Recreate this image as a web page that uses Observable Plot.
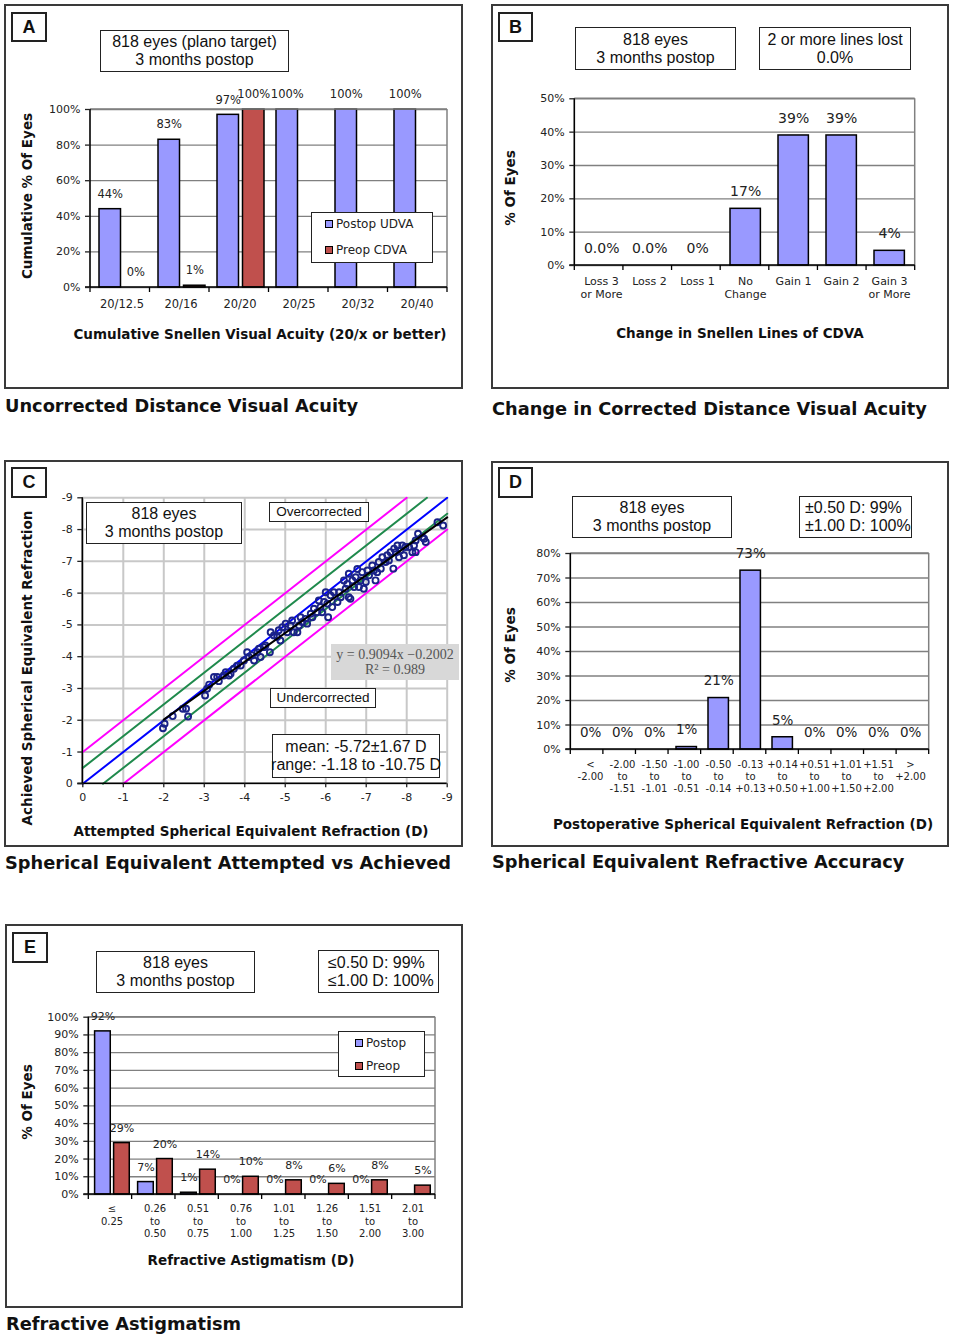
<!DOCTYPE html>
<html><head><meta charset="utf-8">
<script src="https://cdn.jsdelivr.net/npm/d3@7"></script>
<script src="https://cdn.jsdelivr.net/npm/@observablehq/plot@0.6"></script>
<style>
body{margin:0;background:#fff;}
#page{position:relative;width:954px;height:1339px;overflow:hidden;background:#fff;font-family:'DejaVu Sans',Verdana,sans-serif;color:#111;}
.frame{position:absolute;border:2px solid #3a3a3a;box-sizing:border-box;}
.letter{position:absolute;border:2px solid #222;box-sizing:border-box;font:bold 18px 'Liberation Sans',Arial,sans-serif;display:flex;align-items:center;justify-content:center;background:#fff;}
.box{position:absolute;border:1.5px solid #222;box-sizing:border-box;background:#fff;font:16px 'Liberation Sans',Arial,sans-serif;line-height:18px;display:flex;flex-direction:column;align-items:center;justify-content:center;white-space:nowrap;color:#111;}
.box.left{align-items:flex-start;padding-left:5px;}
.caption{position:absolute;font:bold 17.8px 'DejaVu Sans',Verdana,sans-serif;line-height:18px;white-space:nowrap;color:#111;}
.ytitle{position:absolute;font:bold 13.5px 'DejaVu Sans',Verdana,sans-serif;white-space:nowrap;transform:translate(-50%,-50%) rotate(-90deg);}
.xtitle{position:absolute;font:bold 13.5px 'DejaVu Sans',Verdana,sans-serif;white-space:nowrap;transform:translate(-50%,-50%);}
.legend{position:absolute;border:1.5px solid #222;box-sizing:border-box;background:#fff;font:12px 'DejaVu Sans',Verdana,sans-serif;color:#222;}
.legend .row{position:absolute;display:flex;align-items:center;white-space:nowrap;}
.legend .sw{width:6px;height:6px;border:1.2px solid #000;margin-right:3px;}
.reg{position:absolute;background:#d8d8d8;font:14px 'Liberation Serif','Times New Roman',serif;color:#555;display:flex;flex-direction:column;align-items:center;justify-content:center;line-height:15px;white-space:nowrap;}
</style></head>
<body><div id="page"></div>
<script>
// ---------------- DATA ----------------
// Panel A
const aCategories = ["20/12.5","20/16","20/20","20/25","20/32","20/40"];
const aPostopUDVA = [44,83,97,100,100,100];
const aPreopCDVA = [0,1,100,null,null,null];
const aYTicks = [0,20,40,60,80,100];
// Panel B
const bCategories = ["Loss 3\nor More","Loss 2","Loss 1","No\nChange","Gain 1","Gain 2","Gain 3\nor More"];
const bValues = [0,0,0,17,39,39,4.4];
const bLabels = ["0.0%","0.0%","0%","17%","39%","39%","4%"];
const bYTicks = [0,10,20,30,40,50];
// Panel C
const cAttempted = [-1.98,-2.02,-2.22,-2.47,-2.55,-2.60,-3.02,-3.07,-3.12,-3.24,-3.32,-3.36,-3.48,-3.53,-3.61,-3.65,-3.73,-3.81,-3.90,-3.98,-4.06,-4.10,-4.18,-4.23,-4.31,-4.35,-4.39,-4.47,-4.51,-4.62,-4.64,-4.72,-4.80,-4.84,-4.88,-4.93,-5.01,-5.05,-5.13,-5.17,-5.21,-5.30,-5.34,-5.38,-5.42,-5.50,-5.54,-5.63,-5.67,-5.71,-5.79,-5.83,-5.87,-5.91,-5.96,-6.00,-6.04,-6.06,-6.12,-6.16,-6.20,-6.29,-6.33,-6.37,-6.45,-6.49,-6.53,-6.57,-6.57,-6.61,-6.66,-6.70,-6.74,-6.78,-6.82,-6.86,-6.90,-6.94,-6.99,-7.03,-7.07,-7.15,-7.19,-7.23,-7.27,-7.31,-7.36,-7.40,-7.48,-7.52,-7.56,-7.60,-7.67,-7.69,-7.73,-7.77,-7.81,-7.85,-7.89,-7.93,-7.97,-8.06,-8.14,-8.18,-8.22,-8.22,-8.28,-8.39,-8.43,-8.47,-8.76,-8.90];
const cAchieved = [-1.75,-1.89,-2.13,-2.36,-2.36,-2.12,-2.78,-2.99,-3.12,-3.36,-3.36,-3.23,-3.41,-3.51,-3.41,-3.46,-3.62,-3.72,-3.72,-3.88,-4.14,-3.99,-4.04,-3.88,-4.14,-4.25,-3.99,-4.30,-4.35,-4.14,-4.77,-4.67,-4.62,-4.83,-4.51,-4.93,-5.04,-4.77,-4.98,-5.14,-4.77,-4.77,-4.98,-5.24,-5.09,-5.19,-5.04,-5.35,-5.24,-5.51,-5.40,-5.77,-5.56,-5.40,-5.72,-6.03,-5.67,-5.24,-5.93,-5.56,-6.03,-5.72,-6.03,-5.87,-6.40,-6.14,-6.29,-6.61,-5.87,-5.82,-6.40,-6.19,-6.50,-6.76,-6.19,-6.40,-6.66,-6.14,-6.35,-6.71,-6.56,-6.87,-6.71,-6.40,-6.66,-6.98,-6.77,-7.13,-6.98,-7.19,-7.03,-7.29,-6.77,-7.40,-7.29,-7.50,-7.13,-7.35,-7.50,-7.19,-7.45,-7.45,-7.29,-7.50,-7.29,-7.66,-7.87,-7.76,-7.71,-7.61,-8.23,-8.13];
const cTicks = [0,-1,-2,-3,-4,-5,-6,-7,-8,-9];
const cLineOffsets = [-1,-0.5,0,0.5,1];
const cFitSlope = 0.9094, cFitIntercept = -0.2002;
const cFitRange = [-2,-9];
// Panel D
const dCategories = ["<\n-2.00","-2.00\nto\n-1.51","-1.50\nto\n-1.01","-1.00\nto\n-0.51","-0.50\nto\n-0.14","-0.13\nto\n+0.13","+0.14\nto\n+0.50","+0.51\nto\n+1.00","+1.01\nto\n+1.50","+1.51\nto\n+2.00",">\n+2.00"];
const dValues = [0,0,0,1,21,73,5,0,0,0,0];
const dYTicks = [0,10,20,30,40,50,60,70,80];
// Panel E
const eCategories = ["≤\n0.25","0.26\nto\n0.50","0.51\nto\n0.75","0.76\nto\n1.00","1.01\nto\n1.25","1.26\nto\n1.50","1.51\nto\n2.00","2.01\nto\n3.00"];
const ePostop = [92,7,1,0,0,0,0,null];
const ePreop = [29,20,14,10,8,6,8,5];
const eYTicks = [0,10,20,30,40,50,60,70,80,90,100];

// ---------------- HELPERS ----------------
const BLUE = "#9999ff", RED = "#c0504d";
const page = document.getElementById("page");
const px = v => v + "px";
function add(html, cls, css) {
  const d = document.createElement("div");
  d.className = cls; d.innerHTML = html; Object.assign(d.style, css); page.appendChild(d); return d;
}
function box(x0, y0, x1, y1, lines, cls = "box", extra = {}) {
  return add(lines.map(l => `<div>${l}</div>`).join(""), cls, {left: px(x0), top: px(y0), width: px(x1 - x0), height: px(y1 - y0), ...extra});
}
function frame(F, letter, lb, caption, capTop) {
  add("", "frame", {left: px(F.x), top: px(F.y), width: px(F.w), height: px(F.h)});
  add(letter, "letter", {left: px(lb[0]), top: px(lb[1]), width: px(lb[2] - lb[0]), height: px(lb[3] - lb[1])});
  add(caption, "caption", {left: px(F.x + 1), top: px(capTop)});
}
function titles(yt, yc, xt, xc) {
  add(yt, "ytitle", {left: px(yc[0]), top: px(yc[1])});
  add(xt, "xtitle", {left: px(xc[0]), top: px(xc[1])});
}
function legend(x0, y0, x1, y1, items, swX, rows) {
  const d = add("", "legend", {left: px(x0), top: px(y0), width: px(x1 - x0), height: px(y1 - y0)});
  items.forEach((it, i) => {
    const r = document.createElement("div"); r.className = "row";
    r.style.left = px(swX - x0 - 2); r.style.top = px(rows[i] - y0 - 9); r.style.height = "16px";
    r.innerHTML = `<div class="sw" style="background:${it.fill}"></div><span>${it.label}</span>`;
    d.appendChild(r);
  });
}
function placePlot(svg, F) {
  svg.style.position = "absolute"; svg.style.left = px(F.x); svg.style.top = px(F.y);
  page.appendChild(svg);
}
// Excel-like axes: grey right/top border, black left/bottom axis, boundary ticks on band axis
function excelAxes(W, H, mL, mR, mT, mB, n, tick, border) {
  return () => {
    const g = d3.create("svg:g");
    const x0 = mL, x1 = W - mR, y0 = mT, y1 = H - mB;
    if (border) {
      g.append("line").attr("x1", x1).attr("x2", x1).attr("y1", y0).attr("y2", y1).attr("stroke", border).attr("stroke-width", 1.5);
      g.append("line").attr("x1", x0).attr("x2", x1).attr("y1", y0).attr("y2", y0).attr("stroke", border).attr("stroke-width", 1.5);
    }
    g.append("line").attr("x1", x0).attr("x2", x0).attr("y1", y0).attr("y2", y1).attr("stroke", "#000").attr("stroke-width", 1.6);
    g.append("line").attr("x1", x0 - 5).attr("x2", x1).attr("y1", y1).attr("y2", y1).attr("stroke", "#000").attr("stroke-width", 1.6);
    for (let i = 0; i <= n; i++) {
      const x = x0 + (x1 - x0) * i / n;
      g.append("line").attr("x1", x).attr("x2", x).attr("y1", y1).attr("y2", y1 + tick).attr("stroke", "#000").attr("stroke-width", 1.3);
    }
    return g.node();
  };
}
const plotStyle = {fontFamily: "'DejaVu Sans', Verdana, sans-serif", fontSize: "11px", color: "#222", background: "transparent", overflow: "visible"};

function barPanel(cfg) {
  const {F, A, categories, yMax, yTicks, series, labelDy, labelSize, xDy, xSize, xLH} = cfg;
  const n = categories.length;
  const bw = (A.x1 - A.x0) / n;
  const mL = A.x0 - F.x, mR = F.x + F.w - A.x1, mT = A.y0 - F.y, mB = F.y + F.h - A.y1;
  const marks = [Plot.ruleY(yTicks, {y: d => d, stroke: "#808080", strokeWidth: 1.3})];
  const datas = series.map(s => categories.map((c, i) => ({c, v: s.values[i], t: s.labels[i]})).filter(d => d.v != null));
  series.forEach((s, k) => {
    marks.push(Plot.barY(datas[k], {x: "c", y1: 0, y2: "v", insetLeft: s.band[0], insetRight: bw - s.band[1], fill: s.fill, stroke: "#000", strokeWidth: 1.5}));
  });
  marks.push(excelAxes(F.w, F.h, mL, mR, mT, mB, n, 5, "#808080"));
  series.forEach((s, k) => {
    marks.push(Plot.text(datas[k], {x: "c", y: "v", text: "t", dx: (s.band[0] + s.band[1]) / 2 - bw / 2, dy: labelDy, fontSize: labelSize, fill: "#222"}));
  });
  marks.push(Plot.text(categories, {x: d => d, text: d => d, frameAnchor: "bottom", lineAnchor: "top", dy: xDy, fontSize: xSize, lineHeight: xLH, fill: "#222"}));
  marks.push(Plot.axisY(yTicks, {tickSize: 5, tickPadding: 5, tickFormat: d => d + "%", fontSize: 11, label: null, strokeWidth: 1.3}));
  const svg = Plot.plot({
    width: F.w, height: F.h, marginLeft: mL, marginRight: mR, marginTop: mT, marginBottom: mB,
    x: {type: "band", domain: categories, padding: 0, axis: null},
    y: {domain: [0, yMax], axis: null},
    style: plotStyle, marks
  });
  placePlot(svg, F);
}

// ---------------- PANEL A ----------------
const FA = {x: 4, y: 4, w: 459, h: 385};
barPanel({F: FA, A: {x0: 90, x1: 447, y0: 109, y1: 287}, categories: aCategories, yMax: 100, yTicks: aYTicks,
  series: [
    {values: aPostopUDVA, labels: aPostopUDVA.map(v => v + "%"), fill: BLUE, band: [7, 29]},
    {values: aPreopCDVA, labels: aPreopCDVA.map(v => v + "%"), fill: RED, band: [32.5, 54.5]}
  ], labelDy: -15, labelSize: 11.5, xDy: 11, xSize: 11.5, xLH: 1.2});
frame(FA, "A", [11, 12, 47, 42], "Uncorrected Distance Visual Acuity", 397);
box(100, 30, 289, 72, ["818 eyes (plano target)", "3 months postop"]);
legend(311, 212, 433, 263, [{label: "Postop UDVA", fill: BLUE}, {label: "Preop CDVA", fill: RED}], 326, [224, 250]);
titles("Cumulative % Of Eyes", [27, 196], "Cumulative Snellen Visual Acuity (20/x or better)", [260, 334]);

// ---------------- PANEL B ----------------
const FB = {x: 491, y: 4, w: 458, h: 385};
barPanel({F: FB, A: {x0: 574.3, x1: 914.7, y0: 98.3, y1: 265}, categories: bCategories, yMax: 50, yTicks: bYTicks,
  series: [{values: bValues, labels: bLabels, fill: BLUE, band: [9, 40]}],
  labelDy: -17, labelSize: 14, xDy: 10, xSize: 11, xLH: 1.18});
frame(FB, "B", [498, 12, 533, 42], "Change in Corrected Distance Visual Acuity", 400);
box(575, 27, 736, 70, ["818 eyes", "3 months postop"]);
box(759, 27, 911, 70, ["2 or more lines lost", "0.0%"]);
titles("% Of Eyes", [510, 188], "Change in Snellen Lines of CDVA", [740, 333]);

// ---------------- PANEL C ----------------
const FC = {x: 4, y: 460, w: 459, h: 387};
(function () {
  const A = {x0: 82.3, x1: 446.7, y0: 497.3, y1: 783.3};
  const mL = A.x0 - FC.x, mR = FC.x + FC.w - A.x1, mT = A.y0 - FC.y, mB = FC.y + FC.h - A.y1;
  const lo = d3.min(cTicks), hi = d3.max(cTicks);
  const colorFor = o => Math.abs(o) === 1 ? "#ff00ff" : Math.abs(o) === 0.5 ? "#1f8a4c" : "#0000ff";
  const seg = o => {
    const xa = Math.min(hi, hi - o), xb = Math.max(lo, lo - o);
    return [{x: xa, y: xa + o}, {x: xb, y: xb + o}];
  };
  const pts = cAttempted.map((x, i) => ({x, y: cAchieved[i]}));
  const fit = cFitRange.map(x => ({x, y: cFitSlope * x + cFitIntercept}));
  const marks = [
    Plot.ruleX(cTicks, {x: d => d, stroke: "#c8c8c8", strokeWidth: 2}),
    Plot.ruleY(cTicks, {y: d => d, stroke: "#c8c8c8", strokeWidth: 2}),
    ...cLineOffsets.map(o => Plot.line(seg(o), {x: "x", y: "y", stroke: colorFor(o), strokeWidth: 2})),
    Plot.dot(pts, {x: "x", y: "y", r: 3, stroke: "#1a2288", strokeWidth: 1.9, fill: "none"}),
    Plot.line(fit, {x: "x", y: "y", stroke: "#000", strokeWidth: 2}),
    excelAxes(FC.w, FC.h, mL, mR, mT, mB, 0, 0, null),
    Plot.axisX(cTicks, {tickSize: 4, tickPadding: 5, tickFormat: d => String(d), fontSize: 11, label: null, strokeWidth: 1.3}),
    Plot.axisY(cTicks, {tickSize: 5, tickPadding: 5, tickFormat: d => String(d), fontSize: 11, label: null, strokeWidth: 1.3})
  ];
  const svg = Plot.plot({
    width: FC.w, height: FC.h, marginLeft: mL, marginRight: mR, marginTop: mT, marginBottom: mB,
    x: {domain: [hi, lo], axis: null}, y: {domain: [hi, lo], axis: null},
    style: plotStyle, marks
  });
  placePlot(svg, FC);
})();
frame(FC, "C", [11, 467, 47, 498], "Spherical Equivalent Attempted vs Achieved", 854);
box(86, 502, 242, 544, ["818 eyes", "3 months postop"]);
box(269, 502, 369, 522, ["Overcorrected"], "box", {fontSize: "13.5px"});
box(270, 688, 376, 708, ["Undercorrected"], "box", {fontSize: "13.5px"});
box(272, 734, 440, 778, ["mean: -5.72±1.67 D", "range: -1.18 to -10.75 D"]);
add(`<div>y = ${cFitSlope}x −${Math.abs(cFitIntercept).toFixed(4)}</div><div>R² = 0.989</div>`, "reg", {left: "331px", top: "644px", width: "128px", height: "36px"});
titles("Achieved Spherical Equivalent Refraction", [27, 668], "Attempted Spherical Equivalent Refraction (D)", [251, 831]);

// ---------------- PANEL D ----------------
const FD = {x: 491, y: 461, w: 458, h: 386};
barPanel({F: FD, A: {x0: 570.3, x1: 928.7, y0: 553, y1: 749}, categories: dCategories, yMax: 80, yTicks: dYTicks,
  series: [{values: dValues, labels: dValues.map(v => v + "%"), fill: BLUE, band: [6, 27]}],
  labelDy: -17, labelSize: 13.5, xDy: 10, xSize: 10, xLH: 1.2});
frame(FD, "D", [498, 467, 533, 498], "Spherical Equivalent Refractive Accuracy", 853);
box(572, 496, 732, 538, ["818 eyes", "3 months postop"]);
box(799, 496, 912, 538, ["±0.50 D: 99%", "±1.00 D: 100%"], "box left");
titles("% Of Eyes", [510, 645], "Postoperative Spherical Equivalent Refraction (D)", [743, 824]);

// ---------------- PANEL E ----------------
const FE = {x: 5, y: 924, w: 458, h: 384};
barPanel({F: FE, A: {x0: 88.3, x1: 435, y0: 1016.7, y1: 1194}, categories: eCategories, yMax: 100, yTicks: eYTicks,
  series: [
    {values: ePostop, labels: ePostop.map(v => v + "%"), fill: BLUE, band: [4.6, 20.6]},
    {values: ePreop, labels: ePreop.map(v => v + "%"), fill: RED, band: [23.6, 39.6]}
  ], labelDy: -15, labelSize: 11, xDy: 9, xSize: 10, xLH: 1.25});
frame(FE, "E", [12, 932, 48, 963], "Refractive Astigmatism", 1315);
box(96, 951, 255, 993, ["818 eyes", "3 months postop"]);
box(318, 950, 439, 993, ["≤0.50 D: 99%", "≤1.00 D: 100%"], "box left", {paddingLeft: "9px"});
legend(338, 1031, 425, 1077, [{label: "Postop", fill: BLUE}, {label: "Preop", fill: RED}], 356, [1043, 1066]);
titles("% Of Eyes", [27, 1102], "Refractive Astigmatism (D)", [251, 1260]);
</script></body></html>
